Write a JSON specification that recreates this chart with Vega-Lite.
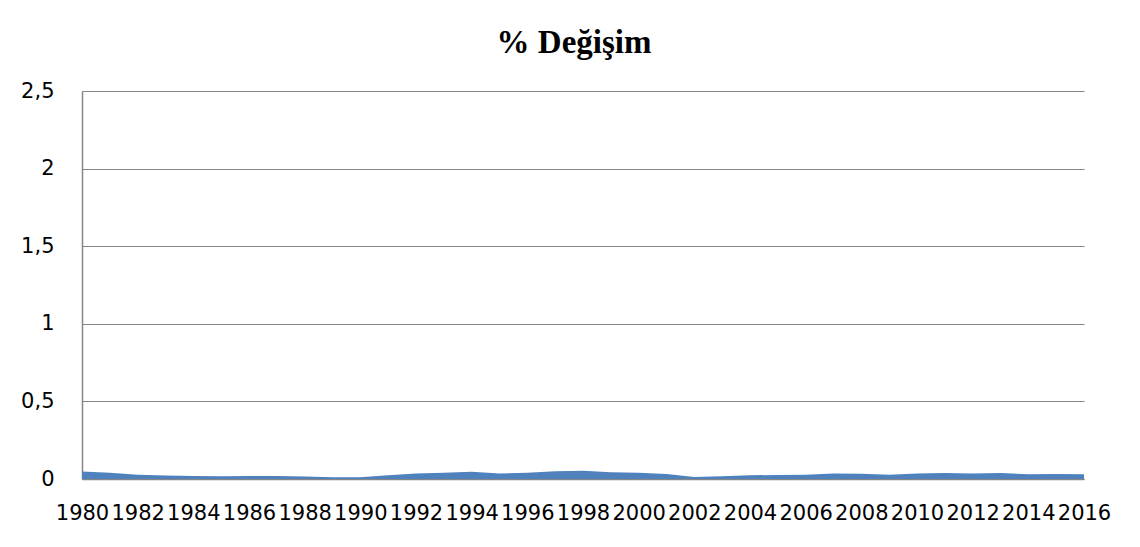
{
  "$schema": "https://vega.github.io/schema/vega-lite/v6.json",
  "autosize": "none",
  "width": 1002,
  "height": 388,
  "padding": {"left": 82, "top": 91, "right": 56, "bottom": 68},
  "background": "white",
  "title": {
    "text": "% Değişim",
    "font": "Liberation Serif",
    "fontSize": 33,
    "fontWeight": "bold",
    "color": "#000000",
    "anchor": "middle",
    "baseline": "bottom",
    "offset": -13,
    "dx": -9
  },
  "data": {
    "values": [
      {"year": 1980, "value": 0.048},
      {"year": 1981, "value": 0.040},
      {"year": 1982, "value": 0.028},
      {"year": 1983, "value": 0.023},
      {"year": 1984, "value": 0.019},
      {"year": 1985, "value": 0.017},
      {"year": 1986, "value": 0.019},
      {"year": 1987, "value": 0.020},
      {"year": 1988, "value": 0.016},
      {"year": 1989, "value": 0.012},
      {"year": 1990, "value": 0.011},
      {"year": 1991, "value": 0.024},
      {"year": 1992, "value": 0.035},
      {"year": 1993, "value": 0.040},
      {"year": 1994, "value": 0.046},
      {"year": 1995, "value": 0.036},
      {"year": 1996, "value": 0.040},
      {"year": 1997, "value": 0.050},
      {"year": 1998, "value": 0.053},
      {"year": 1999, "value": 0.043},
      {"year": 2000, "value": 0.040},
      {"year": 2001, "value": 0.032},
      {"year": 2002, "value": 0.013},
      {"year": 2003, "value": 0.018},
      {"year": 2004, "value": 0.024},
      {"year": 2005, "value": 0.026},
      {"year": 2006, "value": 0.028},
      {"year": 2007, "value": 0.036},
      {"year": 2008, "value": 0.034},
      {"year": 2009, "value": 0.027},
      {"year": 2010, "value": 0.035},
      {"year": 2011, "value": 0.038},
      {"year": 2012, "value": 0.036},
      {"year": 2013, "value": 0.038},
      {"year": 2014, "value": 0.031},
      {"year": 2015, "value": 0.033},
      {"year": 2016, "value": 0.031}
    ]
  },
  "mark": {"type": "area", "color": "#4F81BD", "opacity": 1, "interpolate": "linear"},
  "encoding": {
    "x": {
      "field": "year",
      "type": "quantitative",
      "scale": {"domain": [1980, 2016], "nice": false, "zero": false},
      "axis": {
        "title": null,
        "values": [1980,1982,1984,1986,1988,1990,1992,1994,1996,1998,2000,2002,2004,2006,2008,2010,2012,2014,2016],
        "format": "d",
        "grid": false,
        "ticks": false,
        "labelFont": "DejaVu Sans",
        "labelFontSize": 21,
        "labelColor": "#000000",
        "labelPadding": 23,
        "labelOverlap": false,
        "labelFlush": false,
        "domainColor": "#868686",
        "domainWidth": 1.5
      }
    },
    "y": {
      "field": "value",
      "type": "quantitative",
      "scale": {"domain": [0, 2.5], "nice": false},
      "axis": {
        "title": null,
        "values": [0, 0.5, 1, 1.5, 2, 2.5],
        "labelExpr": "replace(format(datum.value, '.1~f'), '.', ',')",
        "grid": true,
        "gridColor": "#868686",
        "gridWidth": 1,
        "ticks": false,
        "labelFont": "DejaVu Sans",
        "labelFontSize": 21,
        "labelColor": "#000000",
        "labelPadding": 28,
        "domainColor": "#868686",
        "domainWidth": 1.5
      }
    }
  },
  "config": {"view": {"stroke": null}}
}
